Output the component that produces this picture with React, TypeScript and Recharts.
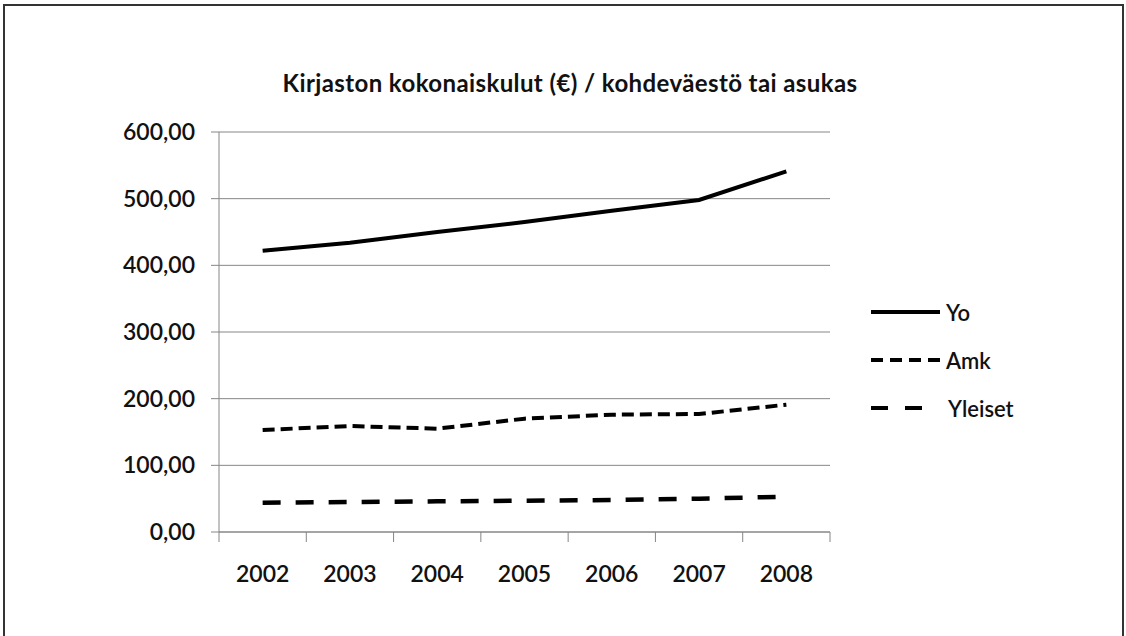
import { LineChart, Line, XAxis, YAxis, CartesianGrid, Legend } from "recharts";

const years = ["2002", "2003", "2004", "2005", "2006", "2007", "2008"];
const yo = [422, 434, 450, 465, 482, 498, 541];
const amk = [153, 159, 155, 170, 176, 177, 191];
const yleiset = [44, 45, 46, 47, 48, 50, 53];
const yTicks = [0, 100, 200, 300, 400, 500, 600];
const seriesNames = ["Yo", "Amk", "Yleiset"];

const data = years.map((year, i) => ({
  year,
  Yo: yo[i],
  Amk: amk[i],
  Yleiset: yleiset[i],
}));

const FONT = "Lato, 'Open Sans', sans-serif";
const GRID = "#868686";

const seriesStyle: Record<string, string | undefined> = {
  Yo: undefined,
  Amk: "12 6",
  Yleiset: "18 15",
};

const legendDash: Record<string, string | undefined> = {
  Yo: undefined,
  Amk: "12 7",
  Yleiset: "17 17",
};

const fmt = (v: number) => v.toFixed(2).replace(".", ",");

function XTick(props: any) {
  const { x, y, payload, index, visibleTicksCount } = props;
  const half = payload?.offset ?? 43.6;
  const axisY = y - 10;
  const isLast = index === visibleTicksCount - 1;
  return (
    <g>
      <line x1={x - half} x2={x - half} y1={axisY} y2={axisY + 10} stroke={GRID} />
      {isLast && (
        <line x1={x + half} x2={x + half} y1={axisY} y2={axisY + 10} stroke={GRID} />
      )}
      <text
        x={x}
        y={axisY + 42}
        dy="0.36em"
        textAnchor="middle"
        fontFamily={FONT}
        fontWeight={600}
        fontSize={23}
        fill="#111"
      >
        {payload.value}
      </text>
    </g>
  );
}

function LegendBox() {
  return (
    <div style={{ fontFamily: FONT, fontSize: 22, fontWeight: 600, color: "#111" }}>
      {seriesNames.map((name) => (
        <div key={name} style={{ height: 48, display: "flex", alignItems: "center" }}>
          <svg width={75} height={10}>
            <line
              x1={0}
              x2={name === "Yleiset" ? 52 : 69}
              y1={5}
              y2={5}
              stroke="#000"
              strokeWidth={4}
              strokeDasharray={legendDash[name]}
            />
          </svg>
          <span style={{ marginLeft: name === "Yleiset" ? 2 : 0 }}>{name}</span>
        </div>
      ))}
    </div>
  );
}

export default function App() {
  return (
    <div
      style={{
        position: "absolute",
        left: 0,
        top: 0,
        width: 1126,
        height: 636,
        background: "#fff",
        overflow: "hidden",
      }}
    >
      <div
        style={{
          position: "absolute",
          left: 3,
          top: 4,
          width: 1117,
          height: 650,
          border: "2px solid #333",
        }}
      />
      <div
        style={{
          position: "absolute",
          left: 0,
          width: 1140,
          top: 68,
          textAlign: "center",
          fontFamily: FONT,
          fontWeight: 700,
          fontSize: 24,
          letterSpacing: 0.4,
          color: "#111",
        }}
      >
        Kirjaston kokonaiskulut (€) / kohdeväestö tai asukas
      </div>
      <div style={{ position: "absolute", left: 0, top: 0 }}>
        <LineChart
          width={1126}
          height={636}
          data={data}
          margin={{ top: 132, right: 296, bottom: 44, left: 69 }}
        >
          <CartesianGrid vertical={false} stroke={GRID} />
          <XAxis
            dataKey="year"
            scale="band"
            height={60}
            stroke={GRID}
            tickLine={false}
            tickSize={10}
            tickMargin={0}
            tick={<XTick />}
            interval={0}
          />
          <YAxis
            width={150}
            domain={[0, 600]}
            ticks={yTicks}
            tickFormatter={fmt}
            stroke={GRID}
            tickSize={8}
            tickMargin={16}
            tick={{ fontFamily: FONT, fontSize: 23, fontWeight: 600, fill: "#111" }}
          />
          <Legend
            layout="vertical"
            align="center"
            verticalAlign="middle"
            content={<LegendBox />}
            wrapperStyle={{ position: "absolute", left: 871, top: 288, width: 160 }}
          />
          {seriesNames.map((k) => (
            <Line
              key={k}
              dataKey={k}
              type="linear"
              stroke="#000"
              strokeWidth={k === "Yleiset" ? 4.5 : 4}
              strokeDasharray={seriesStyle[k]}
              dot={false}
              activeDot={false}
              isAnimationActive={false}
            />
          ))}
        </LineChart>
      </div>
    </div>
  );
}
